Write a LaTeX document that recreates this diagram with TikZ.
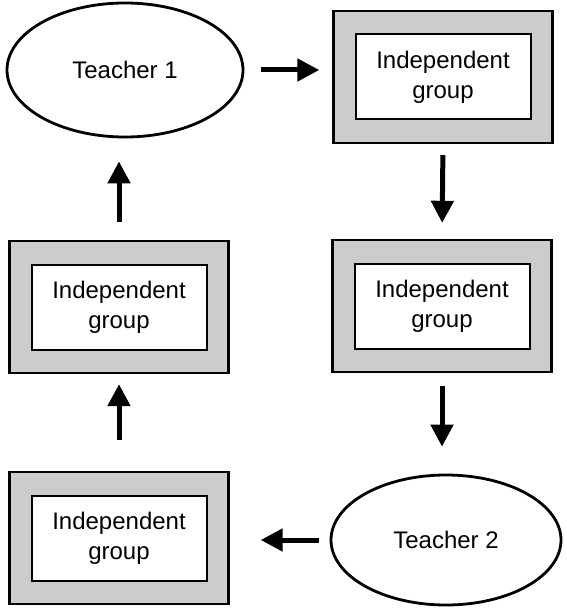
\documentclass[tikz,border=0pt]{standalone}
\usepackage{fontspec}
\setmainfont{Liberation Sans}
\usetikzlibrary{shapes.geometric,arrows.meta}

\begin{document}
\begin{tikzpicture}[x=0.5pt,y=-0.5pt,
    teacher/.style={ellipse,draw,line width=1.4pt,inner sep=0pt,
        font=\fontsize{12}{14}\selectfont},
    outerbox/.style={rectangle,draw,line width=1.2pt,fill=gray!40,
        minimum width=109.5pt,minimum height=66pt,inner sep=0pt},
    innerbox/.style={rectangle,draw,line width=1pt,fill=white,
        minimum width=87.5pt,minimum height=42.5pt,inner sep=0pt,
        align=center,font=\fontsize{12}{15}\selectfont},
    flow/.style={line width=2.5pt,-{Triangle[length=11pt,width=11pt]}}]
    \useasboundingbox (0,0) rectangle (567,610);
    % the two teachers
    \node[teacher,minimum width=118pt,minimum height=67pt] (t1) at (125,70) {Teacher 1};
    \node[teacher,minimum width=115pt,minimum height=65pt] (t2) at (446,540) {Teacher 2};
    % independent groups
    \node[outerbox] (tr) at (443,77) {};
    \node[innerbox] at (tr) {Independent\\group};
    \node[outerbox] (mr) at (442,306) {};
    \node[innerbox] at (mr) {Independent\\group};
    \node[outerbox] (ml) at (119,307) {};
    \node[innerbox] at (ml) {Independent\\group};
    \node[outerbox] (bl) at (119,538) {};
    \node[innerbox] at (bl) {Independent\\group};
    % rotation
    \draw[flow,shorten <=8.5pt,shorten >=6.5pt] (t1) -- (t1 -| tr.west);
    \draw[flow,shorten <=5.5pt,shorten >=8pt] (tr.south) -- (mr.north);
    \draw[flow,shorten <=6.5pt,shorten >=13.5pt] (mr.south) -- (mr.south |- t2.north);
    \draw[flow,shorten <=5.5pt,shorten >=15.5pt] (t2) -- (t2 -| bl.east);
    \draw[flow,shorten <=15.5pt,shorten >=5pt] (bl.north) -- (ml.south);
    \draw[flow,shorten <=9pt,shorten >=11.5pt] (ml.north) -- (ml.north |- t1.south);
\end{tikzpicture}
\end{document}
